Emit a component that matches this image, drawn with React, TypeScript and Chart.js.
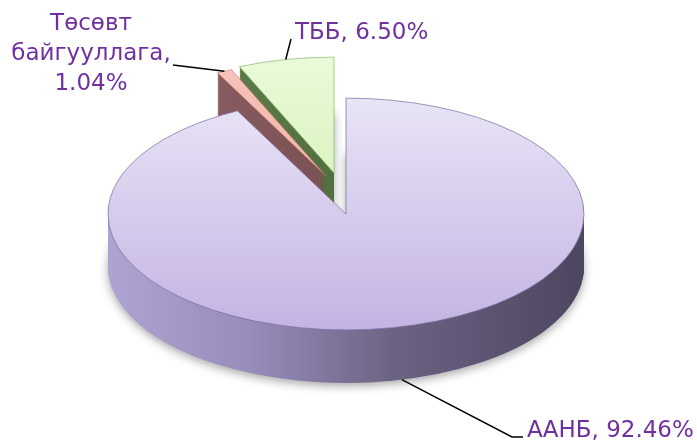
import React, { useEffect, useRef } from "react";
import { Chart, registerables } from "chart.js";
Chart.register(...registerables);

// ---- data ----
const categories = ["ААНБ", "Төсөвт байгууллага", "ТББ"];
const shares = [92.46, 1.04, 6.5];

// ---- style ----
const topColors = [
  ["#e9e4f6", "#c4b3e3"],
  ["#f6c3ba", "#ee a59a".replace(" ", "")],
  ["#eafad9", "#cdeeab"],
];
const sideColors = [
  ["#aea3d1", "#978cba", "#6c6384", "#4e4560"],
  ["#93676b", "#85595d", "#774d50", "#6a4245"],
  ["#6b8b55", "#5a7a47", "#4c6b3b", "#415d31"],
];
const edgeColors = ["rgba(120,108,160,0.7)", "rgba(190,110,100,0.6)", "rgba(150,190,120,0.8)"];
// explode displacement of each slice (screen px)
const explodeOffsets = [
  [0, 0],
  [-20, -38],
  [-12, -41],
];
const TILT = 0.487;
const DEPTH = 53;
const TEXT_COLOR = "#7030a0";
const FONT = '23px "DejaVu Sans"';

function labelLines(i: number): string[] {
  const words = categories[i].split(" ");
  const val = shares[i].toFixed(2) + "%";
  if (words.length === 1) return [words[0] + ", " + val];
  const lines = words.slice();
  lines[lines.length - 1] += ",";
  lines.push(val);
  return lines;
}

function wedge(ctx: CanvasRenderingContext2D, cx: number, cy: number, r: number, a1: number, a2: number) {
  ctx.beginPath();
  ctx.moveTo(cx, cy);
  ctx.ellipse(cx, cy, r, r * TILT, 0, a1, a2);
  ctx.closePath();
}

const pie3d = {
  id: "pie3d",
  beforeDatasetsDraw(chart: any) {
    const ctx: CanvasRenderingContext2D = chart.ctx;
    const arcs = chart.getDatasetMeta(0).data;
    const order = [2, 1, 0];
    const centers: { cx: number; cy: number; r: number; mid: number }[] = [];
    arcs.forEach((el: any, i: number) => {
      const mid = (el.startAngle + el.endAngle) / 2;
      centers[i] = {
        cx: el.x + explodeOffsets[i][0],
        cy: el.y + explodeOffsets[i][1],
        r: el.outerRadius,
        mid,
      };
    });
    for (const i of order) {
      const el = arcs[i];
      const { cx, cy, r } = centers[i];
      const sg = ctx.createLinearGradient(cx - r, 0, cx + r, 0);
      const sc = sideColors[i];
      sg.addColorStop(0, sc[0]);
      sg.addColorStop(0.3, sc[1]);
      sg.addColorStop(0.6, sc[2]);
      sg.addColorStop(1, sc[3]);
      for (let d = DEPTH; d >= 1; d--) {
        ctx.save();
        if (d === DEPTH) {
          ctx.shadowColor = "rgba(0,0,0,0.35)";
          ctx.shadowBlur = 10;
          ctx.shadowOffsetY = 3;
        }
        wedge(ctx, cx, cy + d, r, el.startAngle, el.endAngle);
        ctx.fillStyle = sg;
        ctx.fill();
        ctx.restore();
      }
      const tg = ctx.createLinearGradient(0, cy - r * TILT, 0, cy + r * TILT);
      tg.addColorStop(0, topColors[i][0]);
      tg.addColorStop(1, topColors[i][1]);
      wedge(ctx, cx, cy, r, el.startAngle, el.endAngle);
      ctx.fillStyle = tg;
      ctx.fill();
      ctx.lineWidth = 1;
      ctx.strokeStyle = edgeColors[i];
      ctx.stroke();
    }

    // labels
    const anchor = (i: number, depth: number) => {
      const c = centers[i];
      return [c.cx + Math.cos(c.mid) * c.r, c.cy + Math.sin(c.mid) * c.r * TILT + depth];
    };
    ctx.save();
    ctx.strokeStyle = "#000";
    ctx.lineWidth = 1.5;
    let a = anchor(0, DEPTH);
    ctx.beginPath();
    ctx.moveTo(a[0], a[1]);
    ctx.lineTo(512, 437);
    ctx.lineTo(523, 437);
    ctx.stroke();
    a = anchor(1, 0);
    ctx.beginPath();
    ctx.moveTo(173, 65);
    ctx.lineTo(a[0], a[1]);
    ctx.stroke();
    a = anchor(2, 0);
    ctx.beginPath();
    ctx.moveTo(291, 39);
    ctx.lineTo(a[0], a[1]);
    ctx.stroke();

    ctx.fillStyle = TEXT_COLOR;
    ctx.font = FONT;
    ctx.textBaseline = "alphabetic";
    ctx.textAlign = "left";
    ctx.fillText(labelLines(0)[0], 527, 437);
    ctx.fillText(labelLines(2)[0], 295, 39);
    ctx.textAlign = "center";
    labelLines(1).forEach((t, k) => ctx.fillText(t, 91, 30 + k * 30));
    ctx.restore();
    return false;
  },
};

export default function App() {
  const ref = useRef<HTMLCanvasElement>(null);
  useEffect(() => {
    document.body.style.margin = "0";
    const canvas = ref.current!;
    const chart = new Chart(canvas, {
      type: "pie",
      data: {
        labels: categories,
        datasets: [
          {
            data: shares,
            backgroundColor: topColors.map((c) => c[0]),
            borderWidth: 0,
            radius: 238,
          } as any,
        ],
      },
      options: {
        responsive: false,
        animation: false,
        events: [],
        layout: { padding: { left: 0, right: 5, top: 0, bottom: 14 } },
        plugins: { legend: { display: false }, tooltip: { enabled: false } },
      },
      plugins: [pie3d as any],
    });
    return () => chart.destroy();
  }, []);
  return (
    <div style={{ width: 697, height: 442, overflow: "hidden" }}>
      <canvas ref={ref} width={697} height={442} style={{ display: "block" }} />
    </div>
  );
}
